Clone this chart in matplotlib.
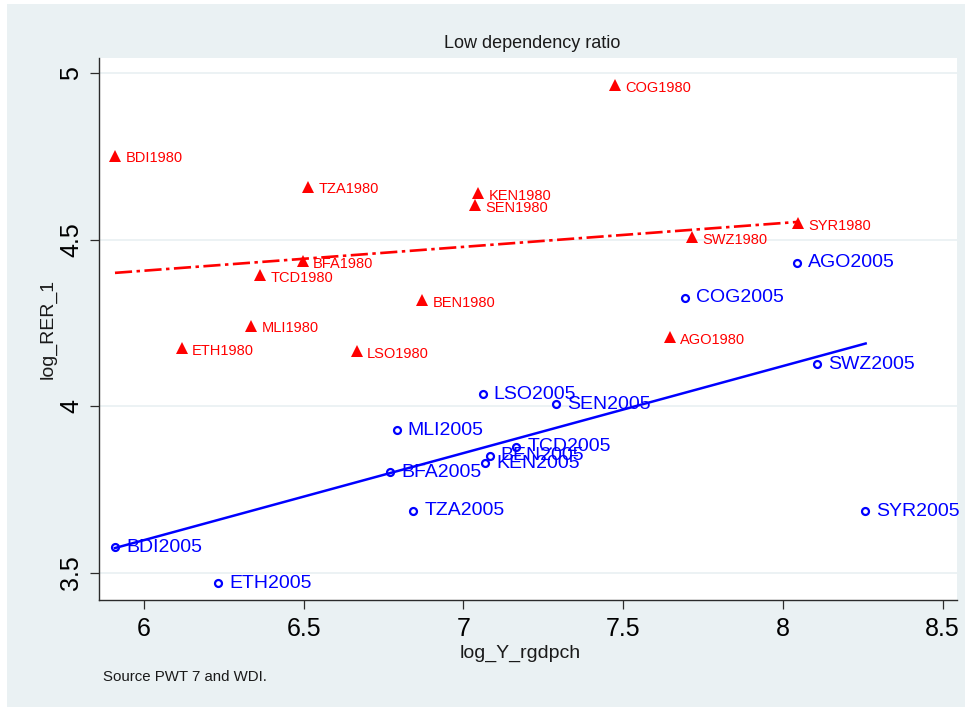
import matplotlib
matplotlib.use("Agg")
import matplotlib.pyplot as plt
from matplotlib.patches import Rectangle

# values
codes = ["BDI", "TZA", "COG", "KEN", "SEN", "SYR", "SWZ",
         "BFA", "TCD", "BEN", "MLI", "AGO", "ETH", "LSO"]

x_1980 = [5.910, 6.514, 7.475, 7.047, 7.036, 8.047, 7.716,
          6.497, 6.363, 6.871, 6.336, 7.645, 6.118, 6.666]
y_1980 = [4.753, 4.660, 4.964, 4.640, 4.605, 4.550, 4.508,
          4.437, 4.395, 4.319, 4.243, 4.207, 4.176, 4.166]

x_2005 = [5.909, 6.843, 7.692, 7.068, 7.289, 8.257, 8.108,
          6.770, 7.165, 7.082, 6.791, 8.044, 6.232, 7.060]
y_2005 = [3.577, 3.687, 4.326, 3.829, 4.007, 3.686, 4.127,
          3.803, 3.879, 3.852, 3.929, 4.431, 3.470, 4.037]

# fitted lines (end points)
fit_1980_x = [5.909, 8.047]
fit_1980_y = [4.401, 4.554]
fit_2005_x = [5.909, 8.259]
fit_2005_y = [3.575, 4.189]

xticks = [6, 6.5, 7, 7.5, 8, 8.5]
xtick_labels = ["6", "6.5", "7", "7.5", "8", "8.5"]
yticks = [3.5, 4, 4.5, 5]
ytick_labels = ["3.5", "4", "4.5", "5"]

plt.rcParams['font.family'] = ['Liberation Sans', 'DejaVu Sans']

W, H = 969, 711
dpi = 100
fig = plt.figure(figsize=(W / dpi, H / dpi), dpi=dpi, facecolor="white")

bg = "#EAF1F3"
fig.patches.append(Rectangle((7 / W, 4 / H), (965 - 7) / W, (707 - 4) / H,
                             transform=fig.transFigure, facecolor=bg,
                             edgecolor="none", zorder=-10))

ax = fig.add_axes([99 / W, (H - 600) / H, (957 - 99) / W, (600 - 58) / H])
ax.set_facecolor("white")
ax.set_xlim(5.859, 8.545)
ax.set_ylim(3.419, 5.046)

for s in ["top", "right"]:
    ax.spines[s].set_visible(False)
for s in ["left", "bottom"]:
    ax.spines[s].set_color("#2b2b2b")
    ax.spines[s].set_linewidth(1.0)

ax.set_xticks(xticks)
ax.set_xticklabels(xtick_labels)
ax.set_yticks(yticks)
ax.set_yticklabels(ytick_labels, rotation=90, va="center")
ax.tick_params(axis="both", direction="out", length=6.5, width=0.9,
               color="#2b2b2b", labelsize=18, pad=5)
ax.tick_params(axis="x", pad=6)
ax.yaxis.grid(True, color=bg, linewidth=1.3)
ax.set_axisbelow(True)

# fit lines
ax.plot(fit_1980_x, fit_1980_y, color="red", linewidth=1.9,
        dashes=(6.5, 1.7, 1.3, 1.7), dash_capstyle="butt", zorder=2)
ax.plot(fit_2005_x, fit_2005_y, color="blue", linewidth=1.8, zorder=2)

# points
ax.plot(x_1980, y_1980, linestyle="none", marker="^", markersize=9,
        color="red", markeredgewidth=0, zorder=3)
ax.plot(x_2005, y_2005, linestyle="none", marker="o", markersize=5,
        markerfacecolor="none", markeredgecolor="blue",
        markeredgewidth=1.6, zorder=3)

for c, xv, yv in zip(codes, x_1980, y_1980):
    ax.annotate(c + "1980", (xv, yv), xytext=(7.5, -2),
                textcoords="offset points", color="red", fontsize=10.5,
                va="center", ha="left", zorder=4)
for c, xv, yv in zip(codes, x_2005, y_2005):
    ax.annotate(c + "2005", (xv, yv), xytext=(8, 0),
                textcoords="offset points", color="blue", fontsize=14,
                va="center", ha="left", zorder=4)

fig.text(532 / W, 1 - 44 / H, "Low dependency ratio", fontsize=13,
         ha="center", va="center", color="#1a1a1a")
fig.text(48 / W, 1 - 329 / H, "log_RER_1", fontsize=14, rotation=90,
         ha="center", va="center", color="#1a1a1a")
fig.text(520 / W, 1 - 653 / H, "log_Y_rgdpch", fontsize=14,
         ha="center", va="center", color="#1a1a1a")
fig.text(103 / W, 1 - 677 / H, "Source PWT 7 and WDI.", fontsize=10.8,
         ha="left", va="center", color="#1a1a1a")

fig.savefig("out.png", dpi=dpi, facecolor="white")
